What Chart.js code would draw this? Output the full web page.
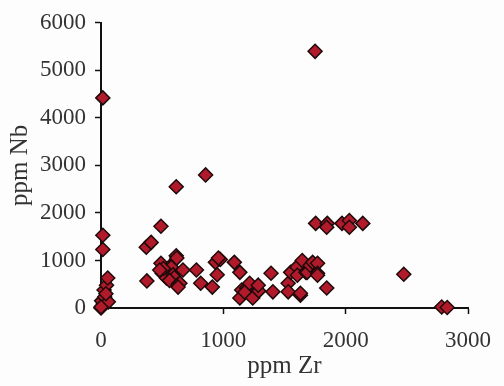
<!DOCTYPE html>
<html>
<head>
<meta charset="utf-8">
<script src="https://cdn.jsdelivr.net/npm/chart.js@4/dist/chart.umd.min.js"></script>
<style>
  html, body { margin: 0; padding: 0; background: #fdfdfd; }
  #wrap { width: 504px; height: 386px; }
</style>
</head>
<body>
<div id="wrap"><canvas id="chart-zrnb"></canvas></div>
<script>
// Zr vs Nb (ppm)
const zrPpm = [
    0, 10, 20, 5, 30, 25, 45, 55, 60, 15, 15, 15, 40, 0,
    370, 410, 490, 615, 855, 375, 490, 500, 535, 565, 575, 615, 620, 590, 600, 560,
    630, 645, 630, 670, 780, 815, 910, 935, 950, 975, 960, 510, 480,
    1090, 1135, 1150, 1190, 1135, 1175, 1215, 1240, 1290, 1285, 1405, 1390,
    1530, 1530, 1550, 1600, 1605, 1630, 1630, 1645, 1675, 1685, 1710, 1730, 1770, 1770, 1770, 1845,
    1755, 1850, 1845, 1970, 2030, 2030, 2140,
    1750, 2475, 2785, 2830
];
const nbPpm = [
    0, 40, 90, 150, 230, 380, 480, 630, 130, 1230, 1530, 4420, 300, 20,
    1280, 1380, 1720, 2550, 2800, 570, 940, 730, 630, 880, 860, 1100, 1050, 700, 640, 580,
    500, 520, 440, 800, 800, 520, 440, 960, 700, 1020, 1050, 830, 800,
    960, 750, 380, 420, 210, 330, 520, 210, 360, 480, 340, 730,
    520, 340, 750, 860, 690, 270, 310, 1000, 750, 750, 900, 960, 940, 730, 690, 420,
    1780, 1780, 1700, 1780, 1840, 1700, 1780,
    5400, 710, 20, 10
];

const fontFamily = '"Liberation Serif", "DejaVu Serif", serif';
const textColor = '#333';
const axisColor = '#111';

new Chart(document.getElementById('chart-zrnb').getContext('2d'), {
    type: 'scatter',
    data: {
        datasets: [{
            label: 'Nb',
            data: zrPpm.map((x, i) => ({ x: x, y: nbPpm[i] })),
            pointStyle: 'rectRot',
            pointRadius: 7,
            backgroundColor: '#b01a2a',
            borderColor: '#1e0a0a',
            borderWidth: 1.5,
            clip: false
        }]
    },
    options: {
        responsive: true,
        maintainAspectRatio: false,
        animation: false,
        layout: { padding: { top: 21, right: 27, left: 0, bottom: 0 } },
        plugins: { legend: { display: false }, tooltip: { enabled: false } },
        scales: {
            x: {
                type: 'linear',
                min: 0, max: 3000,
                afterFit: (s) => { s.height = 78; },
                border: { display: true, color: axisColor, width: 2 },
                grid: { drawOnChartArea: false, drawTicks: true, tickLength: 6, color: axisColor, tickWidth: 1.5 },
                ticks: { stepSize: 1000, color: textColor, padding: 13, maxRotation: 0,
                    font: { family: fontFamily, size: 23 },
                    callback: (v) => String(v) },
                title: { display: true, text: 'ppm Zr', color: textColor,
                    font: { family: fontFamily, size: 25 }, padding: { top: 0, bottom: 5 } }
            },
            y: {
                type: 'linear',
                min: 0, max: 6000,
                afterFit: (s) => { s.width = 101; },
                border: { display: true, color: axisColor, width: 2 },
                grid: { drawOnChartArea: false, drawTicks: true, tickLength: 6, color: axisColor, tickWidth: 1.5 },
                ticks: { stepSize: 1000, color: textColor, padding: 9,
                    font: { family: fontFamily, size: 23 },
                    callback: (v) => String(v) },
                title: { display: true, text: 'ppm Nb', color: textColor,
                    font: { family: fontFamily, size: 25 }, padding: { top: 5, bottom: 0 } }
            }
        }
    }
});
</script>
</body>
</html>
